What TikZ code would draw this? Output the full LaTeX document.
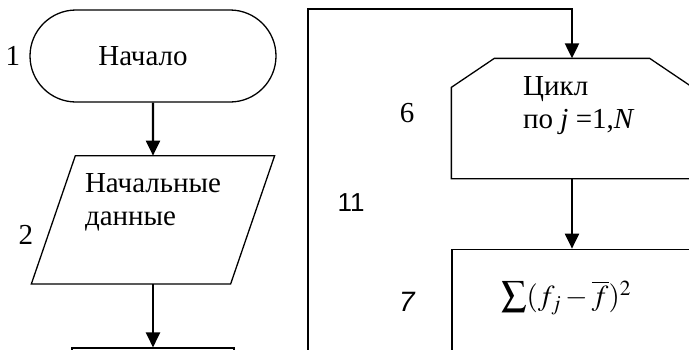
\documentclass[tikz,border=0pt]{standalone}
\usepackage{mathptmx}
\usepackage{fontspec}
\setmainfont{Liberation Serif}
\setsansfont{Liberation Sans}
\usetikzlibrary{arrows.meta,positioning,shapes.misc}

\begin{document}
\begin{tikzpicture}[x=1pt, y=-1pt,
  font=\fontsize{29}{33}\selectfont,
  term/.style={draw, rounded rectangle, line width=1.3pt,
               minimum width=246pt, minimum height=92pt, inner sep=0pt},
  proc/.style={draw, rectangle, line width=1.3pt, inner sep=0pt},
  hole/.style={proc, draw=none},
  frame/.style={line width=1.3pt, line join=miter},
  txt/.style={inner sep=0pt, align=left},
  flow/.style={-{Triangle[length=15pt,width=14pt]}, line width=2.1pt},
  num/.style={inner sep=0pt},
  numsf/.style={num, font=\sffamily\fontsize{26}{30}\selectfont}]
\useasboundingbox (0,0) rectangle (689,349);
\clip (0,0) rectangle (689,349);
% left column
\node[term] (start) at (153,56) {Начало\hspace*{20pt}};
\node[hole, below=53pt of start, minimum width=242pt,
      minimum height=127pt] (data) {};
\draw[frame] ([xshift=44pt]data.north west) -- (data.north east)
  -- ([xshift=-44pt]data.south east) -- (data.south west) -- cycle;
\node[txt] (datat) at ([yshift=17pt]data.center) {Начальные\\данные};
\node[proc, below=63.5pt of data, minimum width=162pt,
      minimum height=80pt] (init) {};
\node[num, left=9pt of start] (n1) {1};
\node[num] (n2) at (26,235) {2};
\draw[flow] (start) -- (data);
\draw[flow] (data) -- (init);
% loop over j
\node[hole, minimum width=240pt, minimum height=119pt] (loop)
  at (572,118.5) {};
\draw[frame] ([yshift=-29pt]loop.north west) -- ([xshift=43pt]loop.north west)
  -- ([xshift=-43pt]loop.north east) -- ([yshift=-29pt]loop.north east)
  -- (loop.south east) -- (loop.south west) -- cycle;
\node[txt, anchor=west] (loopt) at ([xshift=-49pt,yshift=13pt]loop.center)
  {Цикл\\по \textit{j} =1,\textit{N}};
\node[proc, below=70pt of loop, minimum width=240pt,
      minimum height=150pt] (sum) {};
\node[txt] (sumt) at ([xshift=-6pt,yshift=-49pt]sum.north)
  {{\fontsize{36}{36}\selectfont$\sum$}$(f_j-\overline{f})^2$};
\node[num] (n6) at (407,113) {6};
\node[numsf, font=\sffamily\itshape\fontsize{28}{33}\selectfont] (n7)
  at (407,302) {7};
\node[numsf] (n11) at (351,203) {11};
\coordinate (back) at (308,420);
\draw[flow] (back) |- ([yshift=49pt]loop.north) -- (loop.north);
\draw[flow] (loop) -- (sum);
\end{tikzpicture}
\end{document}
